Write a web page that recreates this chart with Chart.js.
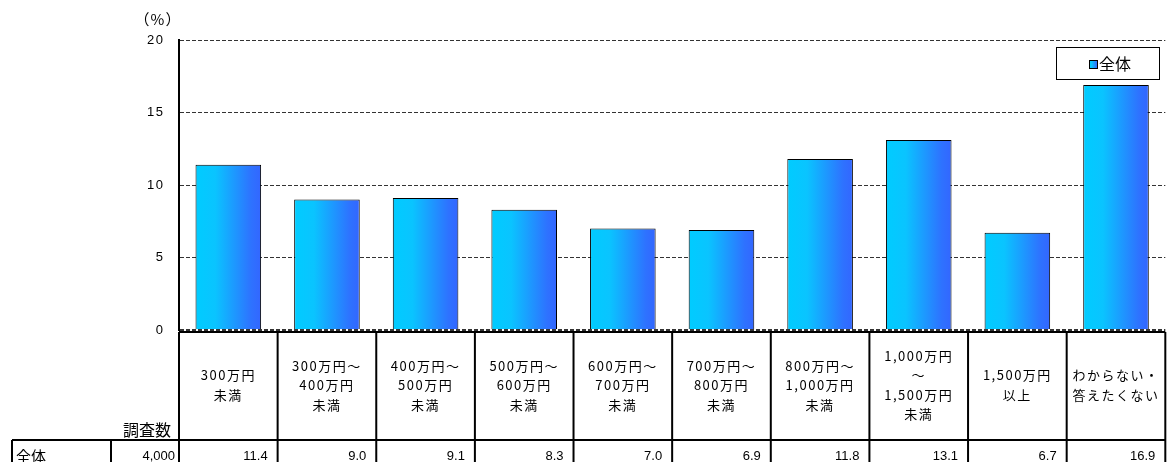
<!DOCTYPE html>
<html>
<head>
<meta charset="utf-8">
<script src="https://cdn.jsdelivr.net/npm/chart.js@4.4.1/dist/chart.umd.min.js"></script>
<style>
  html, body { margin: 0; padding: 0; background: #fff; overflow: hidden; }
  #wrap { position: relative; width: 1173px; height: 462px; }
</style>
</head>
<body>
<div id="wrap"><canvas id="incomeChart" width="1173" height="462"></canvas></div>
<script>
const categories = [
  ['300万円', '未満'],
  ['300万円～', '400万円', '未満'],
  ['400万円～', '500万円', '未満'],
  ['500万円～', '600万円', '未満'],
  ['600万円～', '700万円', '未満'],
  ['700万円～', '800万円', '未満'],
  ['800万円～', '1,000万円', '未満'],
  ['1,000万円', '～', '1,500万円', '未満'],
  ['1,500万円', '以上'],
  ['わからない・', '答えたくない']
];
const seriesName = '全体';
const values = [11.4, 9.0, 9.1, 8.3, 7.0, 6.9, 11.8, 13.1, 6.7, 16.9];
const sampleSize = '4,000';
const countHeader = '調査数';
const yUnit = '（%）';
const yMax = 20;
const yStep = 5;

const JP = '"Noto Sans CJK JP", sans-serif';
const NUM = '"Liberation Sans", Arial, sans-serif';

const makeGradient = (ctx, x0, x1) => {
  const g = ctx.createLinearGradient(x0, 0, x1, 0);
  g.addColorStop(0, '#00CCFF');
  g.addColorStop(0.3, '#0AC4FF');
  g.addColorStop(0.85, '#2E72FF');
  g.addColorStop(1, '#3366FF');
  return g;
};

const BAR_PCT = 0.665;
const LABEL_SPACING = 1.5;

const tablePlugin = {
  id: 'tablePlugin',
  beforeDraw(chart) {
    // wider glyph spacing for the category labels (MS Gothic look)
    chart.ctx.letterSpacing = LABEL_SPACING + 'px';
  },
  afterDraw(chart) {
    const { ctx } = chart;
    const x = chart.scales.x;
    const n = categories.length;
    const step = x.width / n;
    const edge = (i) => x.left + i * step;

    ctx.save();
    ctx.letterSpacing = '0px';
    ctx.strokeStyle = '#000';
    ctx.lineWidth = 2;
    ctx.beginPath();
    // row borders
    ctx.moveTo(x.left, 332); ctx.lineTo(x.right, 332);
    ctx.moveTo(12, 440); ctx.lineTo(x.right, 440);
    // column borders
    for (let i = 0; i <= n; i++) {
      ctx.moveTo(edge(i), 332); ctx.lineTo(edge(i), 462);
    }
    ctx.moveTo(12, 440); ctx.lineTo(12, 462);
    ctx.moveTo(111, 440); ctx.lineTo(111, 462);
    ctx.stroke();

    ctx.fillStyle = '#000';
    ctx.textBaseline = 'middle';
    ctx.font = '16px ' + JP;
    ctx.textAlign = 'right';
    ctx.fillText(countHeader, 171, 430);

    ctx.font = '15px ' + JP;
    ctx.textAlign = 'left';
    ctx.fillText(seriesName, 16, 456);

    ctx.textBaseline = 'alphabetic';
    ctx.font = '13px ' + NUM;
    ctx.textAlign = 'right';
    ctx.fillText(sampleSize, 175, 460);
    values.forEach((v, i) => {
      ctx.fillText(v.toFixed(1), edge(i + 1) - 10, 460);
    });

    // unit label
    ctx.textAlign = 'center';
    ctx.textBaseline = 'middle';
    ctx.font = '15px ' + JP;
    ctx.letterSpacing = '1px';
    ctx.fillText(yUnit, 158, 19);
    ctx.letterSpacing = '0px';

    // legend
    ctx.fillStyle = '#fff';
    ctx.fillRect(1056, 47, 103, 32);
    ctx.lineWidth = 1;
    ctx.strokeRect(1056.5, 47.5, 103, 32);
    ctx.fillStyle = makeGradient(ctx, 1089, 1098);
    ctx.fillRect(1089, 60, 9, 9);
    ctx.strokeRect(1089.5, 60.5, 8, 8);
    ctx.fillStyle = '#000';
    ctx.textAlign = 'left';
    ctx.font = '16px ' + JP;
    ctx.fillText(chart.data.datasets[0].label, 1099, 64);
    ctx.restore();
  }
};

new Chart(document.getElementById('incomeChart'), {
  type: 'bar',
  data: {
    labels: categories,
    datasets: [{
      label: seriesName,
      data: values,
      borderColor: '#000',
      borderWidth: 1,
      barPercentage: BAR_PCT,
      categoryPercentage: 1,
      backgroundColor: (c) => {
        const x = c.chart.scales.x;
        if (!x || c.dataIndex === undefined) return '#0099FF';
        const center = x.getPixelForValue(c.dataIndex);
        const half = (x.width / categories.length) * BAR_PCT / 2;
        if (!Number.isFinite(center) || !Number.isFinite(half) || half <= 0) return '#0099FF';
        return makeGradient(c.chart.ctx, center - half, center + half);
      }
    }]
  },
  options: {
    responsive: false,
    animation: false,
    devicePixelRatio: 1,
    layout: { padding: { top: 40, left: 0, right: 0, bottom: 0 } },
    plugins: {
      legend: { display: false },
      tooltip: { enabled: false }
    },
    scales: {
      x: {
        grid: { display: false },
        border: { display: false },
        ticks: {
          color: '#000',
          font: { family: JP, size: 13, lineHeight: 1.5 },
          padding: 18,
          crossAlign: 'center',
          maxRotation: 0,
          autoSkip: false
        },
        afterFit: (s) => { s.height = 132; }
      },
      y: {
        min: 0,
        max: yMax,
        ticks: {
          stepSize: yStep,
          color: '#000',
          font: { family: NUM, size: 13 },
          padding: 16 - LABEL_SPACING
        },
        grid: {
          color: '#333',
          lineWidth: (c) => (c.tick && c.tick.value === 0 ? 2 : 1),
          drawTicks: false
        },
        border: { color: '#000', width: 2, dash: [4, 2] },
        afterFit: (s) => { s.width = 179; }
      }
    }
  },
  plugins: [tablePlugin]
});
</script>
</body>
</html>
